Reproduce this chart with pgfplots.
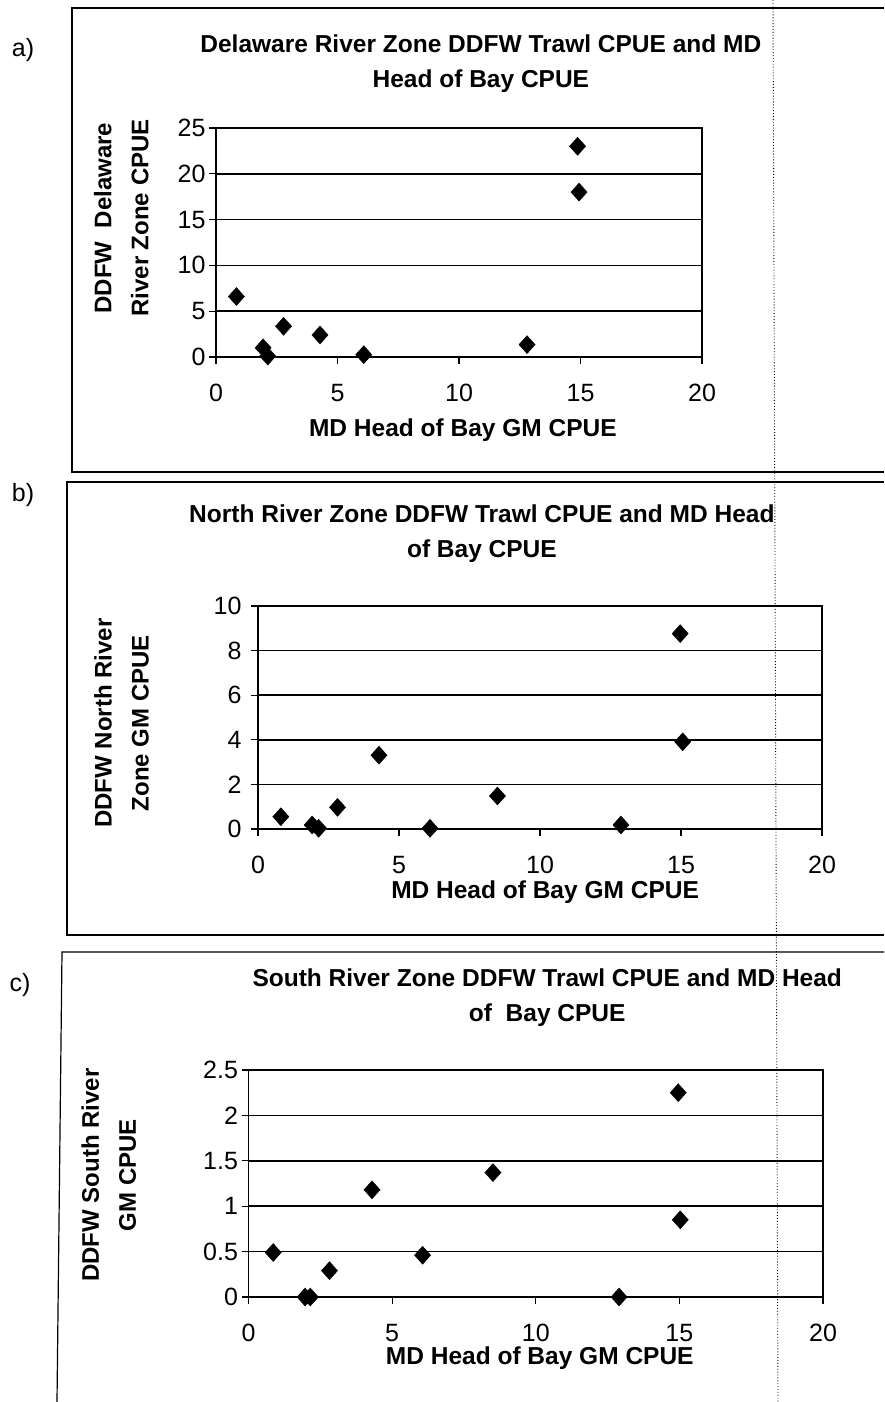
\documentclass[border=0pt]{standalone}
\usepackage{pgfplots}
\pgfplotsset{compat=1.18}
\usepackage{fontspec}
\setmainfont{Liberation Sans}

\pgfplotsset{
  panel/.style={
    scale only axis,
    clip=false,
    xmin=0, xmax=20, xtick={0,5,10,15,20},
    axis line style={line width=1.8pt, black},
    ymajorgrids,
    major grid style={line width=1.6pt, black},
    tick align=outside, xtick pos=left, ytick pos=left,
    major tick length=7pt,
    tick style={line width=1.2pt, black},
    ticklabel style={font=\fontsize{25}{25}\selectfont},
    xticklabel style={yshift=-17pt},
    /pgf/number format/assume math mode=true,
    title style={font=\bfseries\fontsize{24.5}{35}\selectfont, align=center, anchor=center},
    xlabel style={font=\bfseries\fontsize{24.5}{30}\selectfont, anchor=center},
    ylabel style={font=\bfseries\fontsize{24}{37}\selectfont, align=center, anchor=center},
  },
  pts/.style={only marks, mark=diamond*, mark size=9pt, mark options={fill=black, draw=black, xscale=1.2}},
}

\begin{document}
\begin{tikzpicture}
\useasboundingbox (0pt,0pt) rectangle (884pt,1402pt);

% a) Delaware River Zone
\begin{axis}[panel,
  at={(216pt,1045pt)}, anchor=south west, width=486pt, height=229pt,
  ymin=0, ymax=25, ytick={0,5,10,15,20,25},
  title={Delaware River Zone DDFW Trawl CPUE and MD\\Head of Bay CPUE},
  title style={at={(axis description cs:0.545,1.253)}},
  xlabel={MD Head of Bay GM CPUE},
  xlabel style={at={(axis description cs:0.508,-0.319)}},
  ylabel={DDFW\ \ Delaware\\River Zone CPUE},
  ylabel style={at={(axis description cs:-0.195,0.607)}},
]
\addplot[pts] coordinates {
  (0.84,6.6) (1.94,1.0) (2.13,0.1) (2.78,3.35) (4.28,2.4)
  (6.08,0.25) (12.8,1.35) (14.88,23.0) (14.94,18.0)};
\end{axis}

% b) North River Zone
\begin{axis}[panel,
  at={(258pt,573pt)}, anchor=south west, width=564pt, height=223pt,
  ymin=0, ymax=10, ytick={0,2,4,6,8,10},
  yticklabel style={xshift=-6pt},
  title={North River Zone DDFW Trawl CPUE and MD Head\\of Bay CPUE},
  title style={at={(axis description cs:0.397,1.296)}},
  xlabel={MD Head of Bay GM CPUE},
  xlabel style={at={(axis description cs:0.509,-0.283)}},
  ylabel={DDFW North River\\Zone GM CPUE},
  ylabel style={at={(axis description cs:-0.242,0.475)}},
]
\addplot[pts] coordinates {
  (0.81,0.55) (1.92,0.18) (2.15,0.03) (2.82,0.97) (4.29,3.31)
  (6.1,0.03) (8.49,1.48) (12.87,0.18) (14.97,8.76) (15.06,3.91)};
\end{axis}

% c) South River Zone
\begin{axis}[panel,
  at={(248.5pt,105pt)}, anchor=south west, width=574.5pt, height=227pt,
  ymin=0, ymax=2.5, ytick={0,0.5,1,1.5,2,2.5},
  title={South River Zone DDFW Trawl CPUE and MD Head\\of\ \ Bay CPUE},
  title style={at={(axis description cs:0.520,1.291)}},
  xlabel={MD Head of Bay GM CPUE},
  xlabel style={at={(axis description cs:0.507,-0.269)}},
  ylabel={DDFW South River\\GM CPUE},
  ylabel style={at={(axis description cs:-0.243,0.537)}},
]
\addplot[pts] coordinates {
  (0.86,0.49) (1.97,0) (2.15,0) (2.82,0.29) (4.3,1.18)
  (6.06,0.46) (8.51,1.37) (12.9,0) (14.96,2.25) (15.03,0.85)};
\end{axis}

% panel frames, letters and the scan fold line
\draw[line width=1.2pt] (884pt,1394pt) -- (72pt,1394pt) -- (72pt,930pt) -- (884pt,930pt);
\draw[line width=1.2pt] (884pt,920pt) -- (67pt,920pt) -- (67pt,467pt) -- (884pt,467pt);
\draw[line width=1.2pt] (884pt,450pt) -- (62pt,450pt) -- (57pt,0pt);
\draw[dotted, line width=0.9pt] (773pt,1402pt) -- (778pt,0pt);
\node[font=\fontsize{25}{25}\selectfont] at (23pt,1352pt) {a)};
\node[font=\fontsize{25}{25}\selectfont] at (23pt,907pt) {b)};
\node[font=\fontsize{25}{25}\selectfont] at (20pt,417pt) {c)};
\end{tikzpicture}
\end{document}
